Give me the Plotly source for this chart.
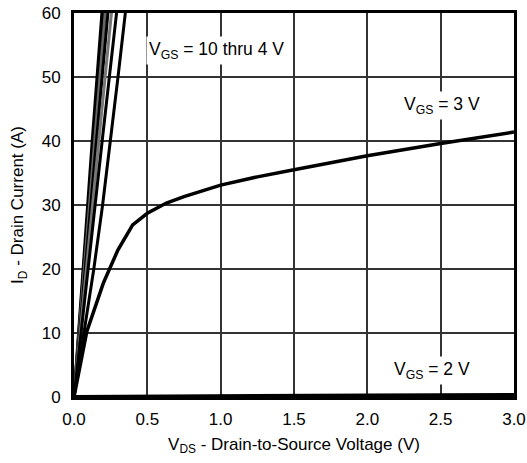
import plotly.graph_objects as go

# Drain current levels (A) for the steep VGS = 10..4 V curves
id_levels = [0, 10, 20, 30, 40, 50, 60, 62]
vds_10v = [0, 0.030, 0.060, 0.092, 0.124, 0.157, 0.190, 0.197]
vds_9v = [0, 0.032, 0.064, 0.098, 0.132, 0.166, 0.200, 0.207]
vds_8v = [0, 0.034, 0.069, 0.105, 0.141, 0.177, 0.213, 0.220]
vds_7v = [0, 0.037, 0.075, 0.114, 0.153, 0.192, 0.231, 0.239]
vds_6v = [0, 0.041, 0.083, 0.126, 0.169, 0.212, 0.255, 0.264]
vds_5v = [0, 0.047, 0.095, 0.143, 0.192, 0.241, 0.290, 0.300]
vds_4v = [0, 0.070, 0.135, 0.195, 0.250, 0.300, 0.350, 0.360]

# VGS = 3 V curve
vds_3v = [0, 0.087, 0.2, 0.3, 0.4, 0.5, 0.63, 0.75, 1.0, 1.25, 1.5, 2.0, 2.5, 3.0]
id_3v = [0, 10.2, 17.8, 23.0, 26.9, 28.7, 30.3, 31.3, 33.1, 34.4, 35.5, 37.7, 39.6, 41.4]

# VGS = 2 V curve
vds_2v = [0, 0.5, 1.0, 2.0, 3.0]
id_2v = [0, 0.1, 0.2, 0.25, 0.3]

x_ticks = [0.0, 0.5, 1.0, 1.5, 2.0, 2.5, 3.0]
y_ticks = [0, 10, 20, 30, 40, 50, 60]

fig = go.Figure()

steep = [
    (vds_10v, "#000000"),
    (vds_9v, "#000000"),
    (vds_8v, "#666666"),
    (vds_7v, "#000000"),
    (vds_6v, "#777777"),
    (vds_5v, "#000000"),
    (vds_4v, "#000000"),
]
for xs, col in steep:
    fig.add_trace(go.Scatter(x=xs, y=id_levels, mode="lines",
                             line=dict(color=col, width=3), showlegend=False,
                             hoverinfo="skip"))

fig.add_trace(go.Scatter(x=vds_3v, y=id_3v, mode="lines",
                         line=dict(color="#000000", width=3.5), showlegend=False))
fig.add_trace(go.Scatter(x=vds_2v, y=id_2v, mode="lines",
                         line=dict(color="#000000", width=4), showlegend=False))

fam = "Liberation Sans, Arial, sans-serif"
ann_font = dict(family=fam, size=17.5, color="#000")

annots = [
    (0.49, 54.2, "V<sub>GS</sub> = 10 thru 4 V"),
    (2.23, 45.6, "V<sub>GS</sub> = 3 V"),
    (2.16, 4.1, "V<sub>GS</sub> = 2 V"),
]
for ax_, ay_, txt in annots:
    fig.add_annotation(x=ax_, y=ay_, text=txt, showarrow=False, xanchor="left",
                       yanchor="middle", bgcolor="white", font=ann_font, borderpad=2)

fig.update_layout(
    width=527, height=463,
    margin=dict(l=74, r=13, t=13, b=66),
    paper_bgcolor="white", plot_bgcolor="white",
    font=dict(family=fam, size=17, color="#000"),
    xaxis=dict(range=[0, 3], tickvals=x_ticks, ticktext=[f"{v:.1f}" for v in x_ticks],
               showgrid=True, gridcolor="#333333", gridwidth=1.5,
               showline=True, linecolor="black", linewidth=3, mirror=True,
               ticks="outside", ticklen=5, tickcolor="rgba(0,0,0,0)",
               zeroline=False, automargin=False,
               tickfont=dict(size=17),
               title=dict(text="V<sub>DS</sub> - Drain-to-Source Voltage (V)", standoff=10,
                          font=dict(size=17))),
    yaxis=dict(range=[0, 60], tickvals=y_ticks,
               showgrid=True, gridcolor="#333333", gridwidth=1.5,
               showline=True, linecolor="black", linewidth=3, mirror=True,
               ticks="outside", ticklen=7, tickcolor="rgba(0,0,0,0)",
               zeroline=False, automargin=False,
               tickfont=dict(size=17),
               title=dict(text="I<sub>D</sub> - Drain Current (A)", standoff=14,
                          font=dict(size=17))),
)

fig.write_html("out.html", post_script="document.body.style.margin='0';",
               config={"displayModeBar": False})
